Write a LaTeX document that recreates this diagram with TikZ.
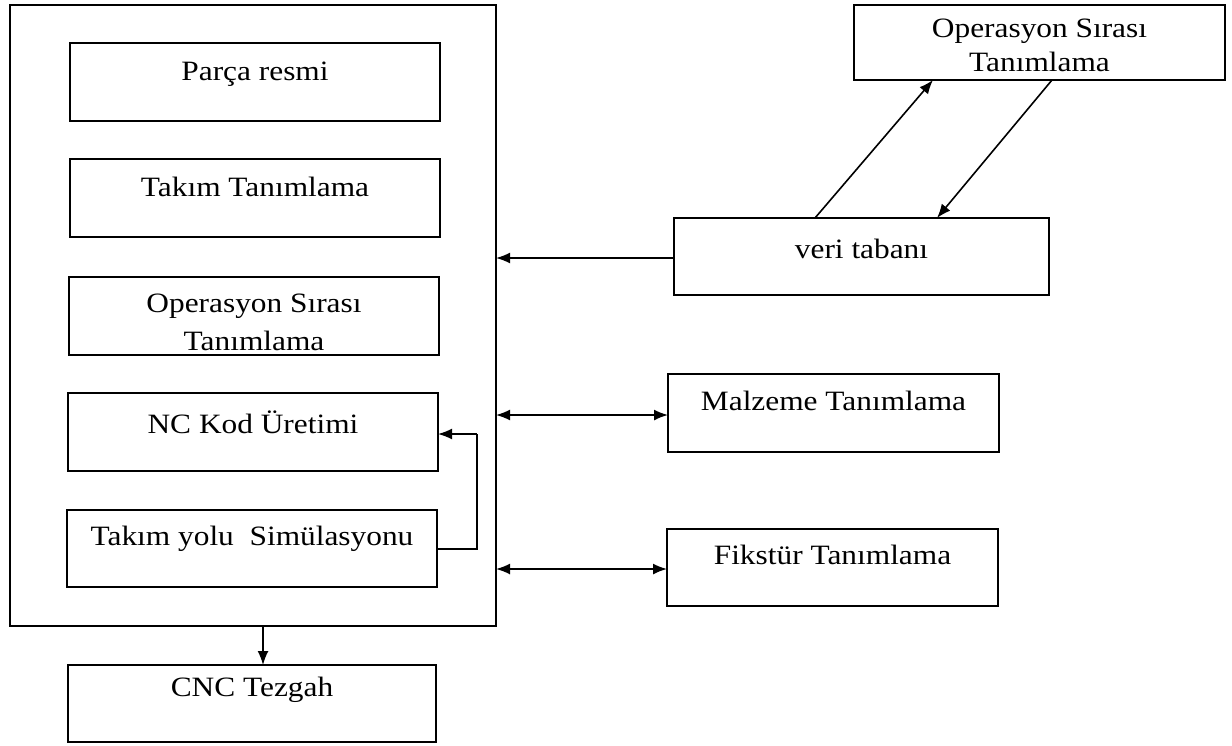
\documentclass[tikz,border=0pt]{standalone}
\usepackage{fontspec}
\setmainfont{Liberation Serif}
\usetikzlibrary{arrows.meta,calc}
\newcommand\wtxt[1]{\scalebox{1.12}[1]{#1}}
\begin{document}
\begin{tikzpicture}[x=1pt,y=-1pt,
  box/.style={draw,line width=1.9pt,anchor=north west,inner sep=0pt,outer sep=0pt},
  txt/.style={font=\fontsize{28}{38}\selectfont,align=center,inner sep=0pt},
  conn/.style={line width=1.6pt},
  tip/.tip={Latex[length=14pt,width=11pt]},
  arr/.style={conn,-tip},
  darr/.style={conn,tip-tip}]
\useasboundingbox (0,0) rectangle (1232,745);
% outer
\node[box,minimum width=486pt,minimum height=621pt] (outer) at (10,5) {};
% inner boxes
\node[box,minimum width=370pt,minimum height=78pt] (parca) at (70,43) {};
\node[box,minimum width=370pt,minimum height=78pt] (takim) at (70,159) {};
\node[box,minimum width=370pt,minimum height=78pt] (opin) at (69,277) {};
\node[box,minimum width=370pt,minimum height=78pt] (nc) at (68,393) {};
\node[box,minimum width=370pt,minimum height=77pt] (sim) at (67,510) {};
\node[box,minimum width=368pt,minimum height=77pt] (cnc) at (68,665) {};
% right boxes
\node[box,minimum width=371pt,minimum height=75pt] (optop) at (854,5) {};
\node[box,minimum width=375pt,minimum height=77pt] (veri) at (674,218) {};
\node[box,minimum width=331pt,minimum height=78pt] (malz) at (668,374) {};
\node[box,minimum width=331pt,minimum height=77pt] (fiks) at (667,529) {};
% texts
\node[txt] (tparca) at ($(parca.north)+(0,31)$) {\wtxt{Parça resmi}};
\node[txt] (ttakim) at ($(takim.north)+(0,28)$) {\wtxt{Takım Tanımlama}};
\node[txt] (topin) at ($(opin.north)+(0,45)$) {\wtxt{Operasyon Sırası}\\\wtxt{Tanımlama}};
\node[txt] (tnc) at ($(nc.north)+(0,29)$) {\wtxt{NC Kod Üretimi}};
\node[txt] (tsim) at ($(sim.north)+(0,29)$) {\wtxt{Takım yolu\ \ Simülasyonu}};
\node[txt] (tcnc) at ($(cnc.north)+(0,25)$) {\wtxt{CNC Tezgah}};
\node[txt,font=\fontsize{28}{34}\selectfont] (toptop) at ($(optop.north)+(0,40)$) {\wtxt{Operasyon Sırası}\\\wtxt{Tanımlama}};
\node[txt] (tveri) at ($(veri.north)+(0,31)$) {\wtxt{veri tabanı}};
\node[txt] (tmalz) at ($(malz.north)+(0,27)$) {\wtxt{Malzeme Tanımlama}};
\node[txt] (tfiks) at ($(fiks.north)+(0,26)$) {\wtxt{Fikstür Tanımlama}};
% connectors
\coordinate (fb1) at (477,549);
\coordinate (fb2) at (477,434);
\draw[conn] (sim.east |- fb1) -- (fb1) -- (fb2);
\draw[arr] (fb2) -- (nc.east |- fb2);
\coordinate (dn) at (263,0);
\draw[arr] (outer.south -| dn) -- (cnc.north -| dn);
\draw[arr] (veri.west |- 0,258) -- (outer.east |- 0,258);
\draw[darr] (outer.east |- 0,415) -- (malz.west |- 0,415);
\draw[darr] (outer.east |- 0,569) -- (fiks.west |- 0,569);
\draw[arr] (veri.north -| 815,0) -- (optop.south -| 933,0);
\draw[arr] (optop.south -| 1052,0) -- (veri.north -| 937,0);
\end{tikzpicture}
\end{document}
